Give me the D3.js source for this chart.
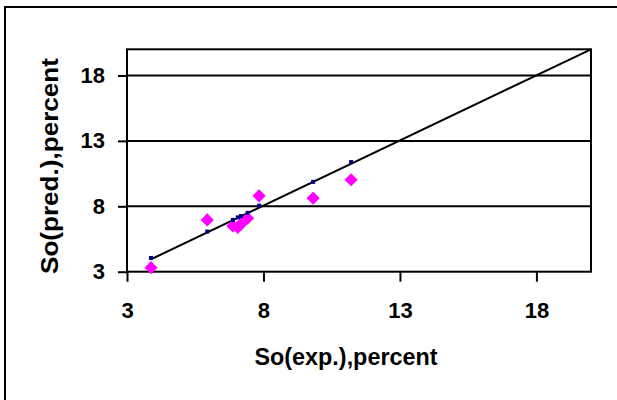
<!DOCTYPE html>
<html><head><meta charset="utf-8">
<script src="https://cdn.jsdelivr.net/npm/d3@7"></script>
<style>body{margin:0;background:#fff}svg{display:block}text{font-family:"Liberation Sans",Arial,sans-serif;font-weight:bold;fill:#000}</style>
</head><body><svg id="c" width="617" height="400"></svg>
<script>
const expValues  = [3.88, 5.94, 6.88, 7.06, 7.17, 7.42, 7.84, 9.82, 11.21];
const predValues = [3.31, 6.96, 6.50, 6.39, 6.62, 7.09, 8.80, 8.62, 10.03];
const fitValues  = [4.05, 6.07, 6.96, 7.15, 7.25, 7.50, 8.05, 9.87, 11.38];
const trendX = [3.88, 20];
const trendY = [3.95, 20];
const xTicks = [3, 8, 13, 18];
const yTicks = [3, 8, 13, 18];
const gridValues = [8, 13, 18];
const xTitle = "So(exp.),percent";
const yTitle = "So(pred.),percent";

const svg = d3.select("#c");
const L = 127, T = 49.3, R = 591, B = 271.7;
const x = d3.scaleLinear().domain([3, 20]).range([L, R]);
const y = d3.scaleLinear().domain([3, 20]).range([B, T]);

// outer frame
svg.append("rect").attr("x", 5).attr("y", 7).attr("width", 640).attr("height", 420)
  .attr("fill", "none").attr("stroke", "#000").attr("stroke-width", 2);

// gridlines
svg.append("g").selectAll("line").data(gridValues).join("line")
  .attr("x1", L).attr("x2", R).attr("y1", d => y(d)).attr("y2", d => y(d))
  .attr("stroke", "#000").attr("stroke-width", 2);

// plot border
svg.append("rect").attr("x", L).attr("y", T).attr("width", R - L).attr("height", B - T)
  .attr("fill", "none").attr("stroke", "#000").attr("stroke-width", 2);

// axes
const xAxis = svg.append("g").attr("transform", `translate(0,${B})`)
  .call(d3.axisBottom(x).tickValues(xTicks).tickSize(10).tickPadding(21).tickFormat(d3.format("d")));
const yAxis = svg.append("g").attr("transform", `translate(${L},0)`)
  .call(d3.axisLeft(y).tickValues(yTicks).tickSize(9).tickPadding(13).tickFormat(d3.format("d")));
[xAxis, yAxis].forEach(a => {
  a.select(".domain").remove();
  a.selectAll(".tick line").attr("stroke", "#000").attr("stroke-width", 2);
  a.selectAll(".tick text").style("font-size", "22px").style("font-family", "'Liberation Sans',Arial,sans-serif").style("font-weight", "bold").attr("fill", "#000");
});

// trend line
const line = d3.line().x(d => x(d[0])).y(d => y(d[1]));
svg.append("path").datum(d3.zip(trendX, trendY)).attr("d", line)
  .attr("fill", "none").attr("stroke", "#000").attr("stroke-width", 2);

// predicted diamonds
const diamond = d3.symbol().type(d3.symbolDiamond2).size(110);
svg.append("g").selectAll("path").data(d3.zip(expValues, predValues)).join("path")
  .attr("d", diamond).attr("transform", d => `translate(${x(d[0])},${y(d[1])})`)
  .attr("fill", "#ff00ff");

// fit dots
svg.append("g").selectAll("rect").data(d3.zip(expValues, fitValues)).join("rect")
  .attr("x", d => x(d[0]) - 2).attr("y", d => y(d[1]) - 2).attr("width", 4).attr("height", 4)
  .attr("fill", "#000080");

// titles
svg.append("text").attr("x", 346).attr("y", 365).attr("text-anchor", "middle")
  .attr("textLength", 183).attr("lengthAdjust", "spacingAndGlyphs")
  .style("font-size", "24px").text(xTitle);
svg.append("text").attr("transform", `translate(58,166) rotate(-90)`).attr("text-anchor", "middle")
  .attr("textLength", 216).attr("lengthAdjust", "spacingAndGlyphs")
  .style("font-size", "24px").text(yTitle);
</script></body></html>
